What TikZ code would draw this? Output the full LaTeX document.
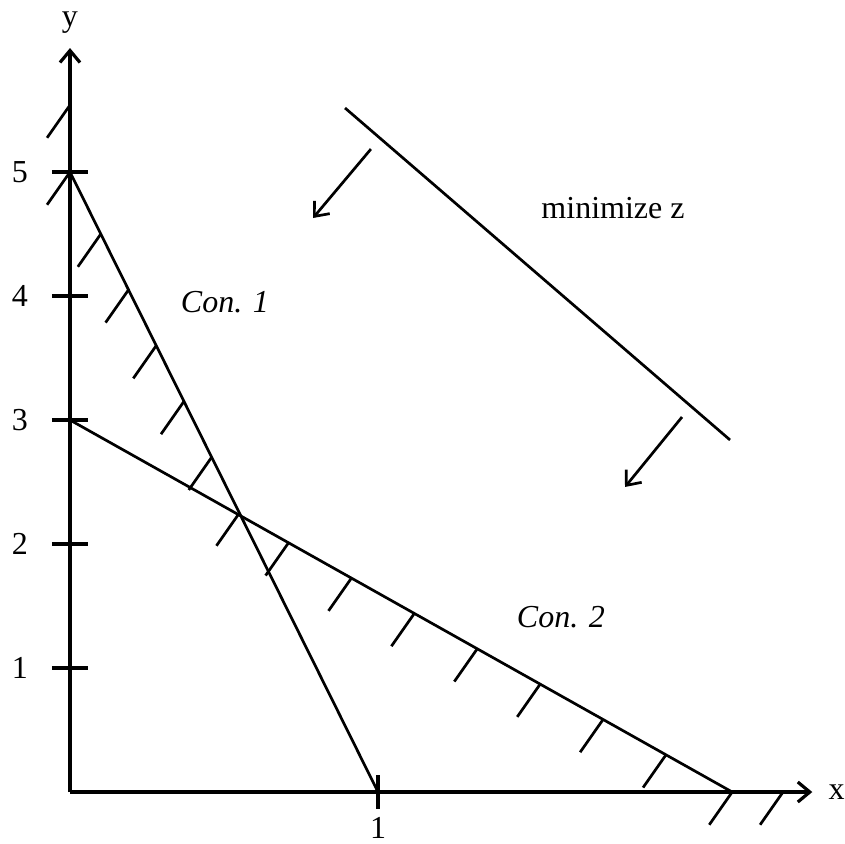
\documentclass[tikz,border=0pt]{standalone}
\usepackage{fontspec}
\setmainfont{Liberation Serif}
\usetikzlibrary{arrows.meta, calc}

\begin{document}
\begin{tikzpicture}[x=154pt, y=62pt, font=\fontsize{16}{19}\selectfont,
  axis/.style={line width=1.6pt, -{Straight Barb[length=6pt,width=10pt]}},
  con/.style={line width=1.35pt},
  hatch/.style={line width=1.35pt},
  tickmark/.style={line width=1.6pt},
  dir/.style={line width=1.35pt, -{Straight Barb[length=6pt,width=10pt]}}]
\useasboundingbox (-35pt,-25.5pt) rectangle (387.5pt,396pt);
% axes
\coordinate (O) at (0,0);
\coordinate (xend) at (2.41,0);
\coordinate (yend) at (0,6);
\draw[axis] (O) -- (xend) node[right=4pt] (xlab) {x};
\draw[axis] (O) -- (yend) node[above=3pt] (ylab) {y};
\foreach \y in {1,...,5} {
    \draw[tickmark] (0,\y) +(-9pt,0) -- +(9pt,0);
    \node (ytick\y) at (-0.163,\y) {\y};
}
\draw[tickmark] (1,0) +(0,8.5pt) -- +(0,-8.5pt) node[below] (xtick1) {1};
% constraints
\coordinate (c1top) at (0,5);
\coordinate (c1bot) at (1,0);
\coordinate (c2top) at (0,3);
\coordinate (c2bot) at (2.15,0);
\draw[con] (c1top) -- (c1bot);
\draw[con] (c2top) -- (c2bot);
\foreach \p in {0.1,0.19,...,0.55} {
    \draw[hatch] ($(c1top)!\p!(c1bot)$) -- ++(235:20pt);
}
\foreach \p in {0.33,0.425,...,0.91} {
    \draw[hatch] ($(c2top)!\p!(c2bot)$) -- ++(235:20pt);
}
\draw[hatch] (c1top) -- ++(235:20pt);
\draw[hatch] (0,5.54) -- ++(235:20pt);
\draw[hatch] (c2bot) -- ++(235:20pt);
\draw[hatch] (2.315,0) -- ++(235:20pt);
\node (con1) at (0.503,3.95) {\itshape Con. 1};
\node (con2) at (1.594,1.41) {\itshape Con. 2};
% objective
\coordinate (ztop) at (0.893,5.516);
\coordinate (zbot) at (2.143,2.839);
\draw[con] (ztop) -- (zbot);
\coordinate (a1s) at (0.977,5.185);
\coordinate (a1e) at (0.789,4.629);
\coordinate (a2s) at (1.987,3.024);
\coordinate (a2e) at (1.802,2.46);
\draw[dir] (a1s) -- (a1e);
\draw[dir] (a2s) -- (a2e);
\node (minz) at (1.763,4.71) {minimize z};
\end{tikzpicture}
\end{document}
